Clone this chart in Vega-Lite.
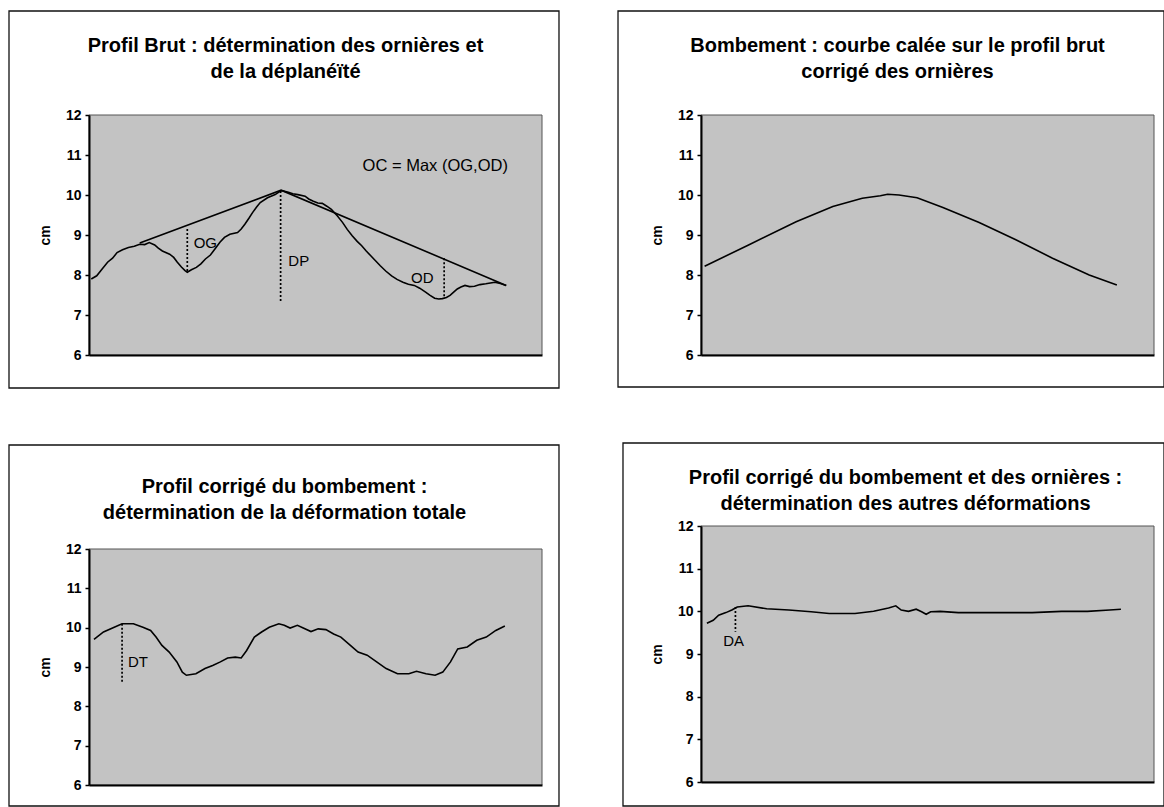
{
  "$schema": "https://vega.github.io/schema/vega-lite/v6.json",
  "background": "white",
  "padding": {"left": 8, "top": 10, "right": 0, "bottom": 0},
  "spacing": 57,
  "config": {
    "font": "Liberation Sans",
    "view": {"stroke": null},
    "axis": {"zindex": 1, "grid": false, "domainColor": "black", "domainWidth": 2, "tickColor": "black", "tickWidth": 1.5, "tickSize": 4, "labelFont": "Liberation Sans", "labelFontSize": 14, "labelFontWeight": "bold", "labelColor": "black", "labelPadding": 4, "labelOverlap": false, "labelFlush": false, "titleFont": "Liberation Sans", "titleFontSize": 14, "titleFontWeight": "bold", "titleColor": "black", "titlePadding": 13},
    "title": {"font": "Liberation Sans", "fontSize": 20, "fontWeight": "bold", "color": "black", "lineHeight": 26, "anchor": "middle", "frame": "group", "zindex": 1},
    "text": {"font": "Liberation Sans", "fontSize": 15, "color": "black", "align": "left", "baseline": "middle"},
    "line": {"stroke": "black", "strokeWidth": 1.6},
    "rule": {"stroke": "black", "strokeWidth": 1.7, "strokeDash": [2, 2]}
  },
  "datasets": {
    "raw": [
      {"x": 0.5, "y": 7.9}, {"x": 1.7, "y": 7.98}, {"x": 2.9, "y": 8.15}, {"x": 4.1, "y": 8.32}, {"x": 5.2, "y": 8.42}, {"x": 6.2, "y": 8.56}, {"x": 7.4, "y": 8.63}, {"x": 8.7, "y": 8.69}, {"x": 10.0, "y": 8.72}, {"x": 11.2, "y": 8.77}, {"x": 12.3, "y": 8.76}, {"x": 13.3, "y": 8.81}, {"x": 14.5, "y": 8.75}, {"x": 15.3, "y": 8.67}, {"x": 16.2, "y": 8.6}, {"x": 17.8, "y": 8.52}, {"x": 18.7, "y": 8.44}, {"x": 19.5, "y": 8.32}, {"x": 20.4, "y": 8.2}, {"x": 21.2, "y": 8.11}, {"x": 21.7, "y": 8.07}, {"x": 22.6, "y": 8.13}, {"x": 23.7, "y": 8.19}, {"x": 24.7, "y": 8.28}, {"x": 25.7, "y": 8.4}, {"x": 26.8, "y": 8.5}, {"x": 27.8, "y": 8.65}, {"x": 28.9, "y": 8.82}, {"x": 29.9, "y": 8.94}, {"x": 31.1, "y": 9.02}, {"x": 32.8, "y": 9.06}, {"x": 33.6, "y": 9.15}, {"x": 34.4, "y": 9.27}, {"x": 35.3, "y": 9.42}, {"x": 36.1, "y": 9.56}, {"x": 37.0, "y": 9.7}, {"x": 37.8, "y": 9.81}, {"x": 39.4, "y": 9.93}, {"x": 41.1, "y": 10.01}, {"x": 42.0, "y": 10.08}, {"x": 42.6, "y": 10.11}, {"x": 44.0, "y": 10.07}, {"x": 45.0, "y": 10.03}, {"x": 46.1, "y": 10.01}, {"x": 47.7, "y": 9.97}, {"x": 48.5, "y": 9.9}, {"x": 49.4, "y": 9.85}, {"x": 50.5, "y": 9.8}, {"x": 51.5, "y": 9.79}, {"x": 52.5, "y": 9.72}, {"x": 53.5, "y": 9.64}, {"x": 54.8, "y": 9.48}, {"x": 56.0, "y": 9.31}, {"x": 57.0, "y": 9.14}, {"x": 58.1, "y": 8.98}, {"x": 59.2, "y": 8.84}, {"x": 60.2, "y": 8.73}, {"x": 61.2, "y": 8.6}, {"x": 62.2, "y": 8.48}, {"x": 63.3, "y": 8.35}, {"x": 64.3, "y": 8.23}, {"x": 65.5, "y": 8.1}, {"x": 66.8, "y": 7.98}, {"x": 68.0, "y": 7.89}, {"x": 69.3, "y": 7.82}, {"x": 70.5, "y": 7.77}, {"x": 71.8, "y": 7.74}, {"x": 73.0, "y": 7.67}, {"x": 74.3, "y": 7.57}, {"x": 75.3, "y": 7.49}, {"x": 76.3, "y": 7.42}, {"x": 77.2, "y": 7.4}, {"x": 78.0, "y": 7.41}, {"x": 78.9, "y": 7.44}, {"x": 79.7, "y": 7.49}, {"x": 80.5, "y": 7.57}, {"x": 81.3, "y": 7.65}, {"x": 82.1, "y": 7.7}, {"x": 83.0, "y": 7.74}, {"x": 84.0, "y": 7.71}, {"x": 85.1, "y": 7.72}, {"x": 86.3, "y": 7.76}, {"x": 87.6, "y": 7.78}, {"x": 88.6, "y": 7.8}, {"x": 89.6, "y": 7.82}, {"x": 90.8, "y": 7.79}, {"x": 92.1, "y": 7.74}
    ],
    "env": [
      {"x": 11.2, "y": 8.8}, {"x": 42.4, "y": 10.12}, {"x": 92.1, "y": 7.74}
    ],
    "rules1": [
      {"x": 21.7, "y": 9.15, "y2": 8.07}, {"x": 42.3, "y": 10.1, "y2": 7.32}, {"x": 78.4, "y": 8.42, "y2": 7.41}
    ],
    "labels1": [
      {"x": 23.1, "y": 8.81, "label": "OG"}, {"x": 44.0, "y": 8.36, "label": "DP"}, {"x": 71.1, "y": 7.92, "label": "OD"}
    ],
    "note1": [
      {"x": 60.4, "y": 10.73, "label": "OC = Max (OG,OD)"}
    ],
    "bomb": [
      {"x": 0.8, "y": 8.22}, {"x": 10.5, "y": 8.75}, {"x": 21.0, "y": 9.33}, {"x": 29.1, "y": 9.71}, {"x": 35.6, "y": 9.92}, {"x": 39.6, "y": 9.98}, {"x": 41.2, "y": 10.02}, {"x": 43.7, "y": 10.0}, {"x": 47.7, "y": 9.93}, {"x": 53.4, "y": 9.69}, {"x": 61.4, "y": 9.31}, {"x": 69.5, "y": 8.88}, {"x": 77.6, "y": 8.42}, {"x": 85.7, "y": 8.0}, {"x": 91.8, "y": 7.75}
    ],
    "total": [
      {"x": 1.1, "y": 9.7}, {"x": 3.2, "y": 9.89}, {"x": 5.2, "y": 9.99}, {"x": 7.3, "y": 10.1}, {"x": 9.8, "y": 10.1}, {"x": 11.9, "y": 10.01}, {"x": 13.6, "y": 9.93}, {"x": 14.8, "y": 9.76}, {"x": 16.1, "y": 9.55}, {"x": 17.7, "y": 9.38}, {"x": 19.4, "y": 9.13}, {"x": 20.6, "y": 8.87}, {"x": 21.5, "y": 8.79}, {"x": 23.6, "y": 8.83}, {"x": 25.6, "y": 8.96}, {"x": 27.3, "y": 9.04}, {"x": 29.0, "y": 9.13}, {"x": 30.6, "y": 9.23}, {"x": 32.3, "y": 9.25}, {"x": 33.6, "y": 9.23}, {"x": 34.8, "y": 9.42}, {"x": 36.5, "y": 9.76}, {"x": 38.1, "y": 9.89}, {"x": 39.8, "y": 10.01}, {"x": 41.9, "y": 10.1}, {"x": 43.1, "y": 10.06}, {"x": 44.4, "y": 9.99}, {"x": 46.0, "y": 10.06}, {"x": 47.3, "y": 9.99}, {"x": 49.0, "y": 9.9}, {"x": 50.6, "y": 9.97}, {"x": 52.3, "y": 9.95}, {"x": 54.0, "y": 9.84}, {"x": 55.6, "y": 9.76}, {"x": 57.7, "y": 9.55}, {"x": 59.4, "y": 9.38}, {"x": 61.4, "y": 9.3}, {"x": 63.5, "y": 9.13}, {"x": 65.6, "y": 8.96}, {"x": 68.1, "y": 8.83}, {"x": 70.6, "y": 8.83}, {"x": 72.3, "y": 8.89}, {"x": 74.4, "y": 8.83}, {"x": 76.4, "y": 8.79}, {"x": 78.1, "y": 8.87}, {"x": 79.8, "y": 9.13}, {"x": 81.4, "y": 9.46}, {"x": 83.5, "y": 9.51}, {"x": 85.6, "y": 9.68}, {"x": 87.7, "y": 9.76}, {"x": 89.8, "y": 9.93}, {"x": 91.8, "y": 10.04}
    ],
    "rules3": [{"x": 7.3, "y": 10.1, "y2": 8.62}],
    "labels3": [{"x": 8.6, "y": 9.13, "label": "DT"}],
    "other": [
      {"x": 1.3, "y": 9.72}, {"x": 2.7, "y": 9.79}, {"x": 3.9, "y": 9.91}, {"x": 5.5, "y": 9.97}, {"x": 6.8, "y": 10.03}, {"x": 8.0, "y": 10.1}, {"x": 10.4, "y": 10.13}, {"x": 14.5, "y": 10.06}, {"x": 19.4, "y": 10.03}, {"x": 24.3, "y": 9.99}, {"x": 28.3, "y": 9.95}, {"x": 34.0, "y": 9.95}, {"x": 38.1, "y": 10.0}, {"x": 41.4, "y": 10.08}, {"x": 43.0, "y": 10.13}, {"x": 44.2, "y": 10.03}, {"x": 45.8, "y": 10.0}, {"x": 47.5, "y": 10.05}, {"x": 48.7, "y": 9.99}, {"x": 49.7, "y": 9.93}, {"x": 50.7, "y": 9.99}, {"x": 52.8, "y": 10.0}, {"x": 56.8, "y": 9.97}, {"x": 65.0, "y": 9.97}, {"x": 73.1, "y": 9.97}, {"x": 79.6, "y": 10.0}, {"x": 85.3, "y": 10.0}, {"x": 90.2, "y": 10.03}, {"x": 92.7, "y": 10.05}
    ],
    "rules4": [{"x": 7.6, "y": 10.1, "y2": 9.52}],
    "labels4": [{"x": 4.9, "y": 9.31, "label": "DA"}]
  },
  "hconcat": [
    {
      "spacing": 55,
      "vconcat": [
        {
          "width": 453, "height": 240,
          "title": {"text": ["Profil Brut : détermination des ornières et", "de la déplanéïté"], "dx": -30, "offset": -72},
          "layer": [
            {"data": {"values": [{}]}, "mark": {"type": "rect", "fill": "white", "stroke": "#111111", "strokeWidth": 1.3},
             "encoding": {
               "x": {"datum": -17.66, "type": "quantitative", "scale": {"domain": [0, 100], "nice": false, "zero": false}, "axis": {"zindex": 2, "labels": false, "ticks": false}, "title": null},
               "x2": {"datum": 103.75},
               "y": {"datum": 14.6, "type": "quantitative", "scale": {"domain": [6, 12], "nice": false, "zero": false}, "axis": {"zindex": 2, "values": [6, 7, 8, 9, 10, 11, 12], "tickCount": 7, "labelOverlap": false}, "title": "cm"},
               "y2": {"datum": 5.175}}},
            {"data": {"values": [{}]}, "mark": {"type": "rect", "fill": "#c3c3c3", "stroke": "#555555", "strokeWidth": 1},
             "encoding": {"x": {"datum": 0, "type": "quantitative", "title": null}, "x2": {"datum": 100}, "y": {"datum": 12, "type": "quantitative", "title": "cm"}, "y2": {"datum": 6}}},
            {"data": {"name": "env"}, "mark": {"type": "line"},
             "encoding": {"x": {"field": "x", "type": "quantitative", "title": null}, "y": {"field": "y", "type": "quantitative", "title": "cm"}}},
            {"data": {"name": "raw"}, "mark": {"type": "line"},
             "encoding": {"x": {"field": "x", "type": "quantitative", "title": null}, "y": {"field": "y", "type": "quantitative", "title": "cm"}}},
            {"data": {"name": "rules1"}, "mark": {"type": "rule"},
             "encoding": {"x": {"field": "x", "type": "quantitative", "title": null}, "y": {"field": "y", "type": "quantitative", "title": "cm"}, "y2": {"field": "y2"}}},
            {"data": {"name": "labels1"}, "mark": {"type": "text"},
             "encoding": {"x": {"field": "x", "type": "quantitative", "title": null}, "y": {"field": "y", "type": "quantitative", "title": "cm"}, "text": {"field": "label"}}},
            {"data": {"name": "note1"}, "mark": {"type": "text", "fontSize": 16.5},
             "encoding": {"x": {"field": "x", "type": "quantitative", "title": null}, "y": {"field": "y", "type": "quantitative", "title": "cm"}, "text": {"field": "label"}}}
          ]
        },
        {
          "width": 453, "height": 236,
          "title": {"text": ["Profil corrigé du bombement :", "détermination de la déformation totale"], "dx": -31, "offset": -79},
          "layer": [
            {"data": {"values": [{}]}, "mark": {"type": "rect", "fill": "white", "stroke": "#111111", "strokeWidth": 1.3},
             "encoding": {
               "x": {"datum": -17.66, "type": "quantitative", "scale": {"domain": [0, 100], "nice": false, "zero": false}, "axis": {"zindex": 2, "labels": false, "ticks": false}, "title": null},
               "x2": {"datum": 103.75},
               "y": {"datum": 14.644, "type": "quantitative", "scale": {"domain": [6, 12], "nice": false, "zero": false}, "axis": {"zindex": 2, "values": [6, 7, 8, 9, 10, 11, 12], "tickCount": 7, "labelOverlap": false}, "title": "cm"},
               "y2": {"datum": 5.466}}},
            {"data": {"values": [{}]}, "mark": {"type": "rect", "fill": "#c3c3c3", "stroke": "#555555", "strokeWidth": 1},
             "encoding": {"x": {"datum": 0, "type": "quantitative", "title": null}, "x2": {"datum": 100}, "y": {"datum": 12, "type": "quantitative", "title": "cm"}, "y2": {"datum": 6}}},
            {"data": {"name": "total"}, "mark": {"type": "line"},
             "encoding": {"x": {"field": "x", "type": "quantitative", "title": null}, "y": {"field": "y", "type": "quantitative", "title": "cm"}}},
            {"data": {"name": "rules3"}, "mark": {"type": "rule"},
             "encoding": {"x": {"field": "x", "type": "quantitative", "title": null}, "y": {"field": "y", "type": "quantitative", "title": "cm"}, "y2": {"field": "y2"}}},
            {"data": {"name": "labels3"}, "mark": {"type": "text"},
             "encoding": {"x": {"field": "x", "type": "quantitative", "title": null}, "y": {"field": "y", "type": "quantitative", "title": "cm"}, "text": {"field": "label"}}}
          ]
        }
      ]
    },
    {
      "spacing": 54,
      "vconcat": [
        {
          "width": 453, "height": 240,
          "title": {"text": ["Bombement : courbe calée sur le profil brut", "corrigé des ornières"], "dx": -30, "offset": -72},
          "layer": [
            {"data": {"values": [{}]}, "mark": {"type": "rect", "fill": "white", "stroke": "#111111", "strokeWidth": 1.3},
             "encoding": {
               "x": {"datum": -18.32, "type": "quantitative", "scale": {"domain": [0, 100], "nice": false, "zero": false}, "axis": {"zindex": 2, "labels": false, "ticks": false}, "title": null},
               "x2": {"datum": 102.21},
               "y": {"datum": 14.6, "type": "quantitative", "scale": {"domain": [6, 12], "nice": false, "zero": false}, "axis": {"zindex": 2, "values": [6, 7, 8, 9, 10, 11, 12], "tickCount": 7, "labelOverlap": false}, "title": "cm"},
               "y2": {"datum": 5.2}}},
            {"data": {"values": [{}]}, "mark": {"type": "rect", "fill": "#c3c3c3", "stroke": "#555555", "strokeWidth": 1},
             "encoding": {"x": {"datum": 0, "type": "quantitative", "title": null}, "x2": {"datum": 100}, "y": {"datum": 12, "type": "quantitative", "title": "cm"}, "y2": {"datum": 6}}},
            {"data": {"name": "bomb"}, "mark": {"type": "line"},
             "encoding": {"x": {"field": "x", "type": "quantitative", "title": null}, "y": {"field": "y", "type": "quantitative", "title": "cm"}}}
          ]
        },
        {
          "width": 453, "height": 256,
          "title": {"text": ["Profil corrigé du bombement et des ornières :", "détermination des autres déformations"], "dx": -22, "offset": -72},
          "layer": [
            {"data": {"values": [{}]}, "mark": {"type": "rect", "fill": "white", "stroke": "#111111", "strokeWidth": 1.3},
             "encoding": {
               "x": {"datum": -17.22, "type": "quantitative", "scale": {"domain": [0, 100], "nice": false, "zero": false}, "axis": {"zindex": 2, "labels": false, "ticks": false}, "title": null},
               "x2": {"datum": 102.21},
               "y": {"datum": 13.945, "type": "quantitative", "scale": {"domain": [6, 12], "nice": false, "zero": false}, "axis": {"zindex": 2, "values": [6, 7, 8, 9, 10, 11, 12], "tickCount": 7, "labelOverlap": false}, "title": "cm"},
               "y2": {"datum": 5.4375}}},
            {"data": {"values": [{}]}, "mark": {"type": "rect", "fill": "#c3c3c3", "stroke": "#555555", "strokeWidth": 1},
             "encoding": {"x": {"datum": 0, "type": "quantitative", "title": null}, "x2": {"datum": 100}, "y": {"datum": 12, "type": "quantitative", "title": "cm"}, "y2": {"datum": 6}}},
            {"data": {"name": "other"}, "mark": {"type": "line"},
             "encoding": {"x": {"field": "x", "type": "quantitative", "title": null}, "y": {"field": "y", "type": "quantitative", "title": "cm"}}},
            {"data": {"name": "rules4"}, "mark": {"type": "rule"},
             "encoding": {"x": {"field": "x", "type": "quantitative", "title": null}, "y": {"field": "y", "type": "quantitative", "title": "cm"}, "y2": {"field": "y2"}}},
            {"data": {"name": "labels4"}, "mark": {"type": "text"},
             "encoding": {"x": {"field": "x", "type": "quantitative", "title": null}, "y": {"field": "y", "type": "quantitative", "title": "cm"}, "text": {"field": "label"}}}
          ]
        }
      ]
    }
  ]
}
